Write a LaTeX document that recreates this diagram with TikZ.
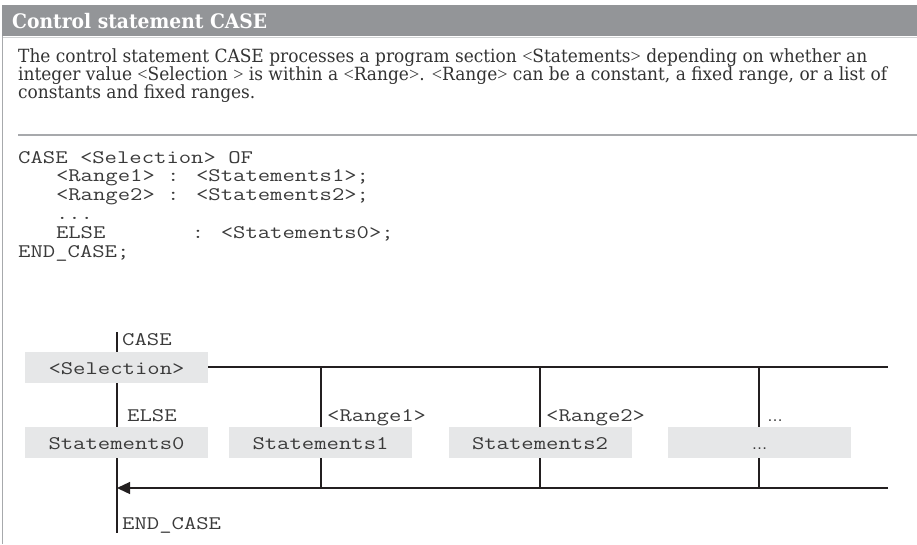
\documentclass[tikz,border=0pt]{standalone}
\usepackage{fontspec}
\setmainfont{DejaVu Serif Condensed}[FakeStretch=1.04]
\newfontfamily\codefont{Latin Modern Mono}[FakeStretch=1.25]
\newfontfamily\ellfont{Liberation Sans}
\newfontfamily\brfont{Liberation Serif}
\newcommand\myLT{{\brfont<}}
\newcommand\myGT{{\brfont>}}
\usetikzlibrary{arrows.meta,backgrounds}
\definecolor{hdr}{HTML}{939598}
\definecolor{bodytxt}{HTML}{333333}
\definecolor{codetxt}{HTML}{3A3A3A}
\definecolor{boxfill}{HTML}{E6E7E8}
\definecolor{rulegray}{HTML}{A7A9AC}
\definecolor{rulelight}{HTML}{D1D3D4}
\definecolor{linec}{HTML}{231F20}
\newcommand\codefnt{\codefont\fontsize{19.2pt}{19.2pt}\selectfont}
\newcommand\myBodyLineA{The control statement CASE processes a program section \myLT Statements\myGT{} depending on whether an}
\newcommand\myTitleText{Control statement CASE}
\newsavebox\mymeasbox
\newdimen\mymeasdim
\begin{document}
\sbox\mymeasbox{\normalfont\fontsize{10pt}{12pt}\selectfont\myBodyLineA}%
\mymeasdim=\wd\mymeasbox
\pgfmathsetmacro\bsz{10*849/\mymeasdim}%
\sbox\mymeasbox{\normalfont\fontsize{10pt}{12pt}\selectfont\bfseries\myTitleText}%
\mymeasdim=\wd\mymeasbox
\pgfmathsetmacro\tsz{10*255/\mymeasdim}%
\begin{tikzpicture}[x=1pt,y=-1pt]
\tikzset{
  ln/.style={draw=linec, line width=1.3pt},
  codetext/.style={font=\codefnt, text=codetxt, inner sep=0pt, anchor=base west},
  boxnode/.style={fill=boxfill, minimum width=183pt, minimum height=31pt, inner sep=0pt,
     text height=17pt, text depth=3pt, font=\codefnt, text=codetxt},
  bodytext/.style={font=\fontsize{\bsz pt}{\bsz pt}\selectfont, text=bodytxt, inner sep=0pt, anchor=base west},
  titletext/.style={font=\fontsize{\tsz pt}{\tsz pt}\selectfont\bfseries, text=white, inner sep=0pt, anchor=base west},
  ellipsis/.style={font=\ellfont\fontsize{16pt}{16pt}\selectfont, text=codetxt},
}
\useasboundingbox (0,0) rectangle (917,544);
% header
\fill[hdr] (2,5) rectangle (917,36);
\draw[rulelight, line width=1pt] (2,37.5) -- (917,37.5);
\draw[rulegray, line width=1.5pt] (2.5,36) -- (2.5,544);
\node[titletext] (title) at (12,28) {\myTitleText};
% description
\node[bodytext] (body1) at (18,62) {\myBodyLineA};
\node[bodytext] (body2) at (18,80) {integer value \myLT Selection \myGT{} is within a \myLT Range\myGT. \myLT Range\myGT{} can be a constant, a fixed range, or a list of};
\node[bodytext] (body3) at (18,98) {constants and fixed ranges.};
\draw[rulegray, line width=1.2pt] (18,135) -- (917,135);
% code
\node[codetext] (c1) at (18,163) {CASE <Selection> OF};
\node[codetext] (c2) at (55.8,181.8) {<Range1> : <Statements1>;};
\node[codetext] (c3) at (55.8,200.6) {<Range2> : <Statements2>;};
\node[codetext] (c4) at (55.8,219.4) {...};
\node[codetext] (c5) at (55.8,238.2) {ELSE\phantom{0000000}: <Statements0>;};
\node[codetext] (c6) at (18,257) {END\_CASE;};
% diagram boxes
\node[boxnode] (sel) at (116.5,367.5) {<Selection>};
\node[boxnode] (st0) at (116.5,442.5) {Statements0};
\node[boxnode] (st1) at (320.5,442.5) {Statements1};
\node[boxnode] (st2) at (540,442.5) {Statements2};
\node[boxnode, ellipsis] (st3) at (759.5,442) {…};
% labels
\node[codetext] (lcase) at (122,345) {CASE};
\node[codetext] (lelse) at (127,421) {ELSE};
\node[codetext] (lr1) at (327,421) {<Range1>};
\node[codetext] (lr2) at (546,421) {<Range2>};
\node[inner sep=0pt, anchor=base west, ellipsis] (lr3) at (767,421) {…};
\node[codetext] (lend) at (122,529) {END\_CASE};
% connector coordinates
\coordinate (top) at (117,332);
\coordinate (bot) at (117,533);
\coordinate (tr) at (888,367);
\coordinate (br) at (888,488);
\coordinate (endj) at (117,488);
\coordinate (j1t) at (321,367);
\coordinate (j1b) at (321,488);
\coordinate (j2t) at (540,367);
\coordinate (j2b) at (540,488);
\coordinate (j3t) at (759,367);
\coordinate (j3b) at (759,488);
\begin{pgfonlayer}{background}
\draw[ln] (top) -- (bot);
\draw[ln] (sel.east |- tr) -- (tr);
\draw[ln] (j1t) -- (j1b);
\draw[ln] (j2t) -- (j2b);
\draw[ln] (j3t) -- (j3b);
\draw[ln, -{Triangle[length=13pt, width=12pt]}] (br) -- (endj);
\end{pgfonlayer}
\end{tikzpicture}
\end{document}
